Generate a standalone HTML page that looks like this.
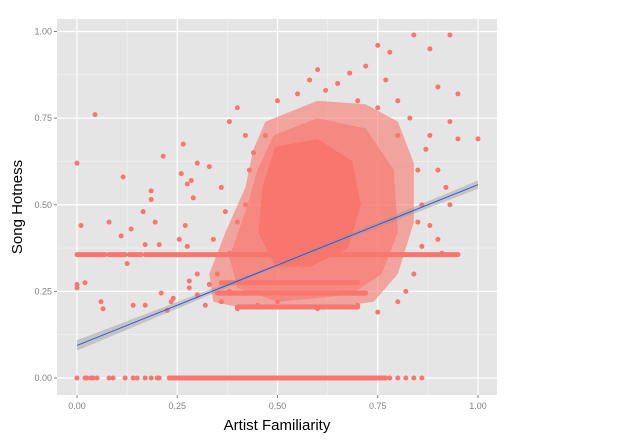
<!DOCTYPE html>
<html><head><meta charset="utf-8"><style>
html,body{margin:0;padding:0;background:#fff;width:623px;height:440px;overflow:hidden}
text{font-family:"Liberation Sans",sans-serif}
</style></head><body>
<svg id="chart" width="623" height="440" xmlns="http://www.w3.org/2000/svg"></svg>
<script>
const xTicks=[0,0.25,0.5,0.75,1];
const yTicks=[0,0.25,0.5,0.75,1];
const xTickLabels=["0.00","0.25","0.50","0.75","1.00"];
const yTickLabels=["0.00","0.25","0.50","0.75","1.00"];
const pointsX=[0,0.045,0,0,0.02,0.01,0.06,0.065,0.08,0.115,0.11,0.125,0.135,0.14,0.165,0.17,0.17,0.185,0.185,0.195,0.205,0.21,0.215,0.225,0.235,0.24,0.255,0.26,0.265,0.27,0.275,0.275,0.28,0.285,0.29,0.3,0.33,0.36,0.38,0.4,0.42,0.44,0.6,0.65,0.75,0.78,0.84,0.88,0.93,0.9,0.95,0.95,1.0,0.93,0.88,0.9,0.92,0.93,0.88,0.86,0.84,0.82,0.8,0.35,0.33,0.38,0.36,0.4,0.3,0.32,0.42,0.4,0.43,0.47,0.5,0.55,0.7,0.75,0.8,0.85,0.86,0.85,0.5,0.6,0.7,0.75,0.45,0.38,0.3,0.28,0.34,0.37,0.68,0.72,0.77,0.62,0.58,0.8,0.83,0.87,0.9,0.91,0,0.02,0.025,0.035,0.04,0.05,0.08,0.09,0.12,0.14,0.15,0.17,0.185,0.2,0.205,0.78,0.8,0.82,0.84,0.86];
const pointsY=[0.62,0.76,0.27,0.26,0.275,0.44,0.22,0.2,0.45,0.58,0.41,0.33,0.43,0.21,0.48,0.385,0.21,0.54,0.515,0.45,0.385,0.245,0.64,0.195,0.22,0.23,0.4,0.59,0.675,0.44,0.56,0.38,0.26,0.57,0.52,0.62,0.61,0.55,0.74,0.78,0.7,0.65,0.89,0.85,0.96,0.94,0.99,0.95,0.99,0.84,0.82,0.69,0.69,0.74,0.7,0.6,0.55,0.5,0.44,0.38,0.3,0.25,0.22,0.3,0.27,0.25,0.22,0.2,0.24,0.21,0.5,0.45,0.6,0.7,0.8,0.82,0.8,0.78,0.7,0.6,0.5,0.45,0.22,0.2,0.21,0.19,0.21,0.36,0.3,0.28,0.4,0.48,0.88,0.9,0.86,0.83,0.86,0.8,0.75,0.66,0.4,0.36,0,0,0,0,0,0,0,0,0,0,0,0,0,0,0,0,0,0,0,0];
const bandY=[0,0.356,0.356,0.356,0.356,0.205,0.245,0.275];
const bandX0=[0.23,0,0.08,0.13,0.17,0.4,0.35,0.36];
const bandX1=[0.77,0.07,0.12,0.16,0.95,0.7,0.72,0.7];
const outerX=[0.47,0.6,0.72,0.8,0.84,0.84,0.8,0.74,0.6,0.42,0.34,0.33,0.37,0.42,0.44];
const outerY=[0.74,0.8,0.79,0.74,0.62,0.45,0.3,0.22,0.2,0.2,0.22,0.3,0.42,0.55,0.66];
const midX=[0.49,0.6,0.72,0.79,0.8,0.76,0.68,0.5,0.4,0.38,0.42,0.45];
const midY=[0.7,0.75,0.72,0.6,0.42,0.3,0.24,0.22,0.26,0.35,0.48,0.6];
const coreX=[0.5,0.6,0.68,0.7,0.67,0.58,0.5,0.46,0.47];
const coreY=[0.66,0.68,0.62,0.5,0.38,0.33,0.33,0.42,0.55];
const fitX=[0,0.5,1];
const fitY=[0.094,0.326,0.558];
const fitSE=[0.015,0.004,0.012];

const NS="http://www.w3.org/2000/svg";
const svg=document.getElementById('chart');
const L=57,T=19,R=497,B=395;
const sx=v=>77+v*401;
const sy=v=>378-v*346.5;
function mk(tag,attrs,parent){const e=document.createElementNS(NS,tag);for(const k in attrs)e.setAttribute(k,attrs[k]);(parent||svg).appendChild(e);return e;}

const bg=mk('rect',{x:L,y:T,width:R-L,height:B-T,fill:'#e5e5e5'});


[0.125,0.375,0.625,0.875].forEach(v=>{
 const a=mk('line',{x1:sx(v),x2:sx(v),y1:T,y2:B,stroke:'#f2f2f2','stroke-width':0.6});
 
 
 const b=mk('line',{x1:L,x2:R,y1:sy(v),y2:sy(v),stroke:'#f2f2f2','stroke-width':0.6});
 
 
});
xTicks.forEach((v,i)=>{
 const g=mk('line',{x1:sx(v),x2:sx(v),y1:T,y2:B,stroke:'#fff','stroke-width':1.2});
 
 
 mk('line',{x1:sx(v),x2:sx(v),y1:B,y2:B+3,stroke:'#7f7f7f'});
 const t=mk('text',{x:sx(v),y:B+14,'font-size':9,fill:'#7f7f7f','text-anchor':'middle'});
 t.textContent=xTickLabels[i];
 
 
});
yTicks.forEach((v,i)=>{
 const g=mk('line',{x1:L,x2:R,y1:sy(v),y2:sy(v),stroke:'#fff','stroke-width':1.2});
 
 
 mk('line',{x1:L-3,x2:L,y1:sy(v),y2:sy(v),stroke:'#7f7f7f'});
 const t=mk('text',{x:L-5,y:sy(v)+3,'font-size':9,fill:'#7f7f7f','text-anchor':'end'});
 t.textContent=yTickLabels[i];
 
 
});
const pc='#f8766d';
const outer=mk('polygon',{points:outerX.map((x,i)=>sx(x)+','+sy(outerY[i])).join(' '),fill:pc,'fill-opacity':0.6,'stroke-linejoin':'round'});


const mid=mk('polygon',{points:midX.map((x,i)=>sx(x)+','+sy(midY[i])).join(' '),fill:pc,'fill-opacity':0.6,'stroke-linejoin':'round'});


const core=mk('polygon',{points:coreX.map((x,i)=>sx(x)+','+sy(coreY[i])).join(' '),fill:pc,stroke:pc,'stroke-width':6,'stroke-linejoin':'round'});


bandY.forEach((y,i)=>{
 const b=mk('line',{x1:sx(bandX0[i]),x2:sx(bandX1[i]),y1:sy(y),y2:sy(y),stroke:pc,'stroke-width':5,'stroke-linecap':'round'});
 
 
});
pointsX.forEach((x,i)=>{
 const c=mk('circle',{cx:sx(x),cy:sy(pointsY[i]),r:2.5,fill:pc});
 
 
});
const up=fitX.map((x,i)=>sx(x)+','+sy(fitY[i]+fitSE[i]));
const lo=fitX.map((x,i)=>sx(x)+','+sy(fitY[i]-fitSE[i])).reverse();
const ci=mk('polygon',{points:up.concat(lo).join(' '),fill:'#999','fill-opacity':0.45});


const fl=mk('polyline',{points:fitX.map((x,i)=>sx(x)+','+sy(fitY[i])).join(' '),fill:'none',stroke:'#3355dd','stroke-width':1});


const xt=mk('text',{x:277,y:430,'font-size':15,fill:'#000','text-anchor':'middle'});
xt.textContent='Artist Familiarity';


const yt=mk('text',{x:0,y:0,'font-size':15,fill:'#000','text-anchor':'middle',transform:'translate(22,207) rotate(-90)'});
yt.textContent='Song Hotness';


</script>
</body></html>
